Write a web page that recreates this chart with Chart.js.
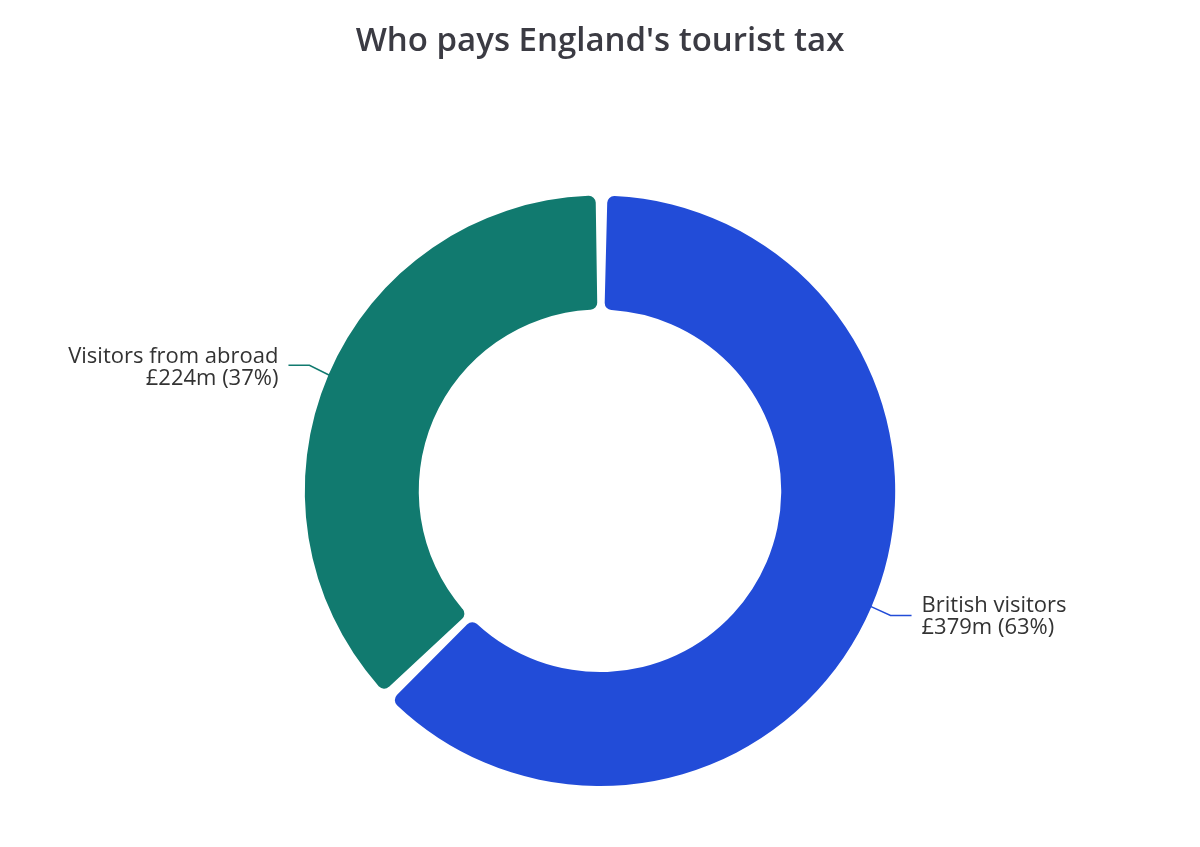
<!DOCTYPE html>
<html>
<head>
<meta charset="utf-8">
<script src="https://cdn.jsdelivr.net/npm/chart.js@4"></script>
<style>
  html, body { margin: 0; padding: 0; background: #fff; }
  #wrap { width: 1200px; height: 847px; }
</style>
</head>
<body>
<div id="wrap"><canvas id="chart"></canvas></div>
<script>
const categories = ['British visitors', 'Visitors from abroad'];
const amounts = [379, 224];
const amountLabels = ['£379m (63%)', '£224m (37%)'];
const colours = ['#224cd8', '#117a6f'];

// leader lines + labels next to each slice
const sliceLabels = {
  id: 'sliceLabels',
  afterDatasetsDraw(chart) {
    const ctx = chart.ctx;
    const arcs = chart.getDatasetMeta(0).data;
    ctx.save();
    arcs.forEach((arc, i) => {
      const mid = (arc.startAngle + arc.endAngle) / 2;
      const r = arc.outerRadius;
      const right = Math.cos(mid) >= 0;
      const dir = right ? 1 : -1;
      const x0 = arc.x + Math.cos(mid) * (r + 2);
      const y0 = arc.y + Math.sin(mid) * (r + 2);
      const x1 = x0 + dir * 20;
      const y1 = y0 + (Math.sin(mid) >= 0 ? 9 : -10);
      const x2 = x1 + dir * 21;
      ctx.strokeStyle = colours[i];
      ctx.lineWidth = 1.5;
      ctx.beginPath();
      ctx.moveTo(x0, y0);
      ctx.lineTo(x1, y1);
      ctx.lineTo(x2, y1);
      ctx.stroke();
      ctx.fillStyle = '#333333';
      ctx.font = '22px "Open Sans"';
      ctx.textAlign = right ? 'left' : 'right';
      ctx.textBaseline = 'middle';
      const tx = x2 + dir * 10;
      const ty = right ? y1 - 10 : y1 - 8;
      ctx.fillText(categories[i], tx, ty);
      ctx.fillText(amountLabels[i], tx, ty + 22);
    });
    ctx.restore();
  }
};

new Chart(document.getElementById('chart'), {
  type: 'doughnut',
  data: {
    labels: categories,
    datasets: [{
      data: amounts,
      backgroundColor: colours,
      borderWidth: 0,
      borderRadius: 7,
      spacing: 6
    }]
  },
  options: {
    responsive: true,
    maintainAspectRatio: false,
    animation: false,
    cutout: '61%',
    layout: { padding: { top: 0, bottom: 61, left: 0, right: 0 } },
    plugins: {
      legend: { display: false },
      tooltip: { enabled: false },
      title: {
        display: true,
        text: "Who pays England's tourist tax",
        color: '#3b3b43',
        font: { family: '"Open Sans"', size: 33, weight: '600' },
        padding: { top: 22, bottom: 134 }
      }
    }
  },
  plugins: [sliceLabels]
});
</script>
</body>
</html>
